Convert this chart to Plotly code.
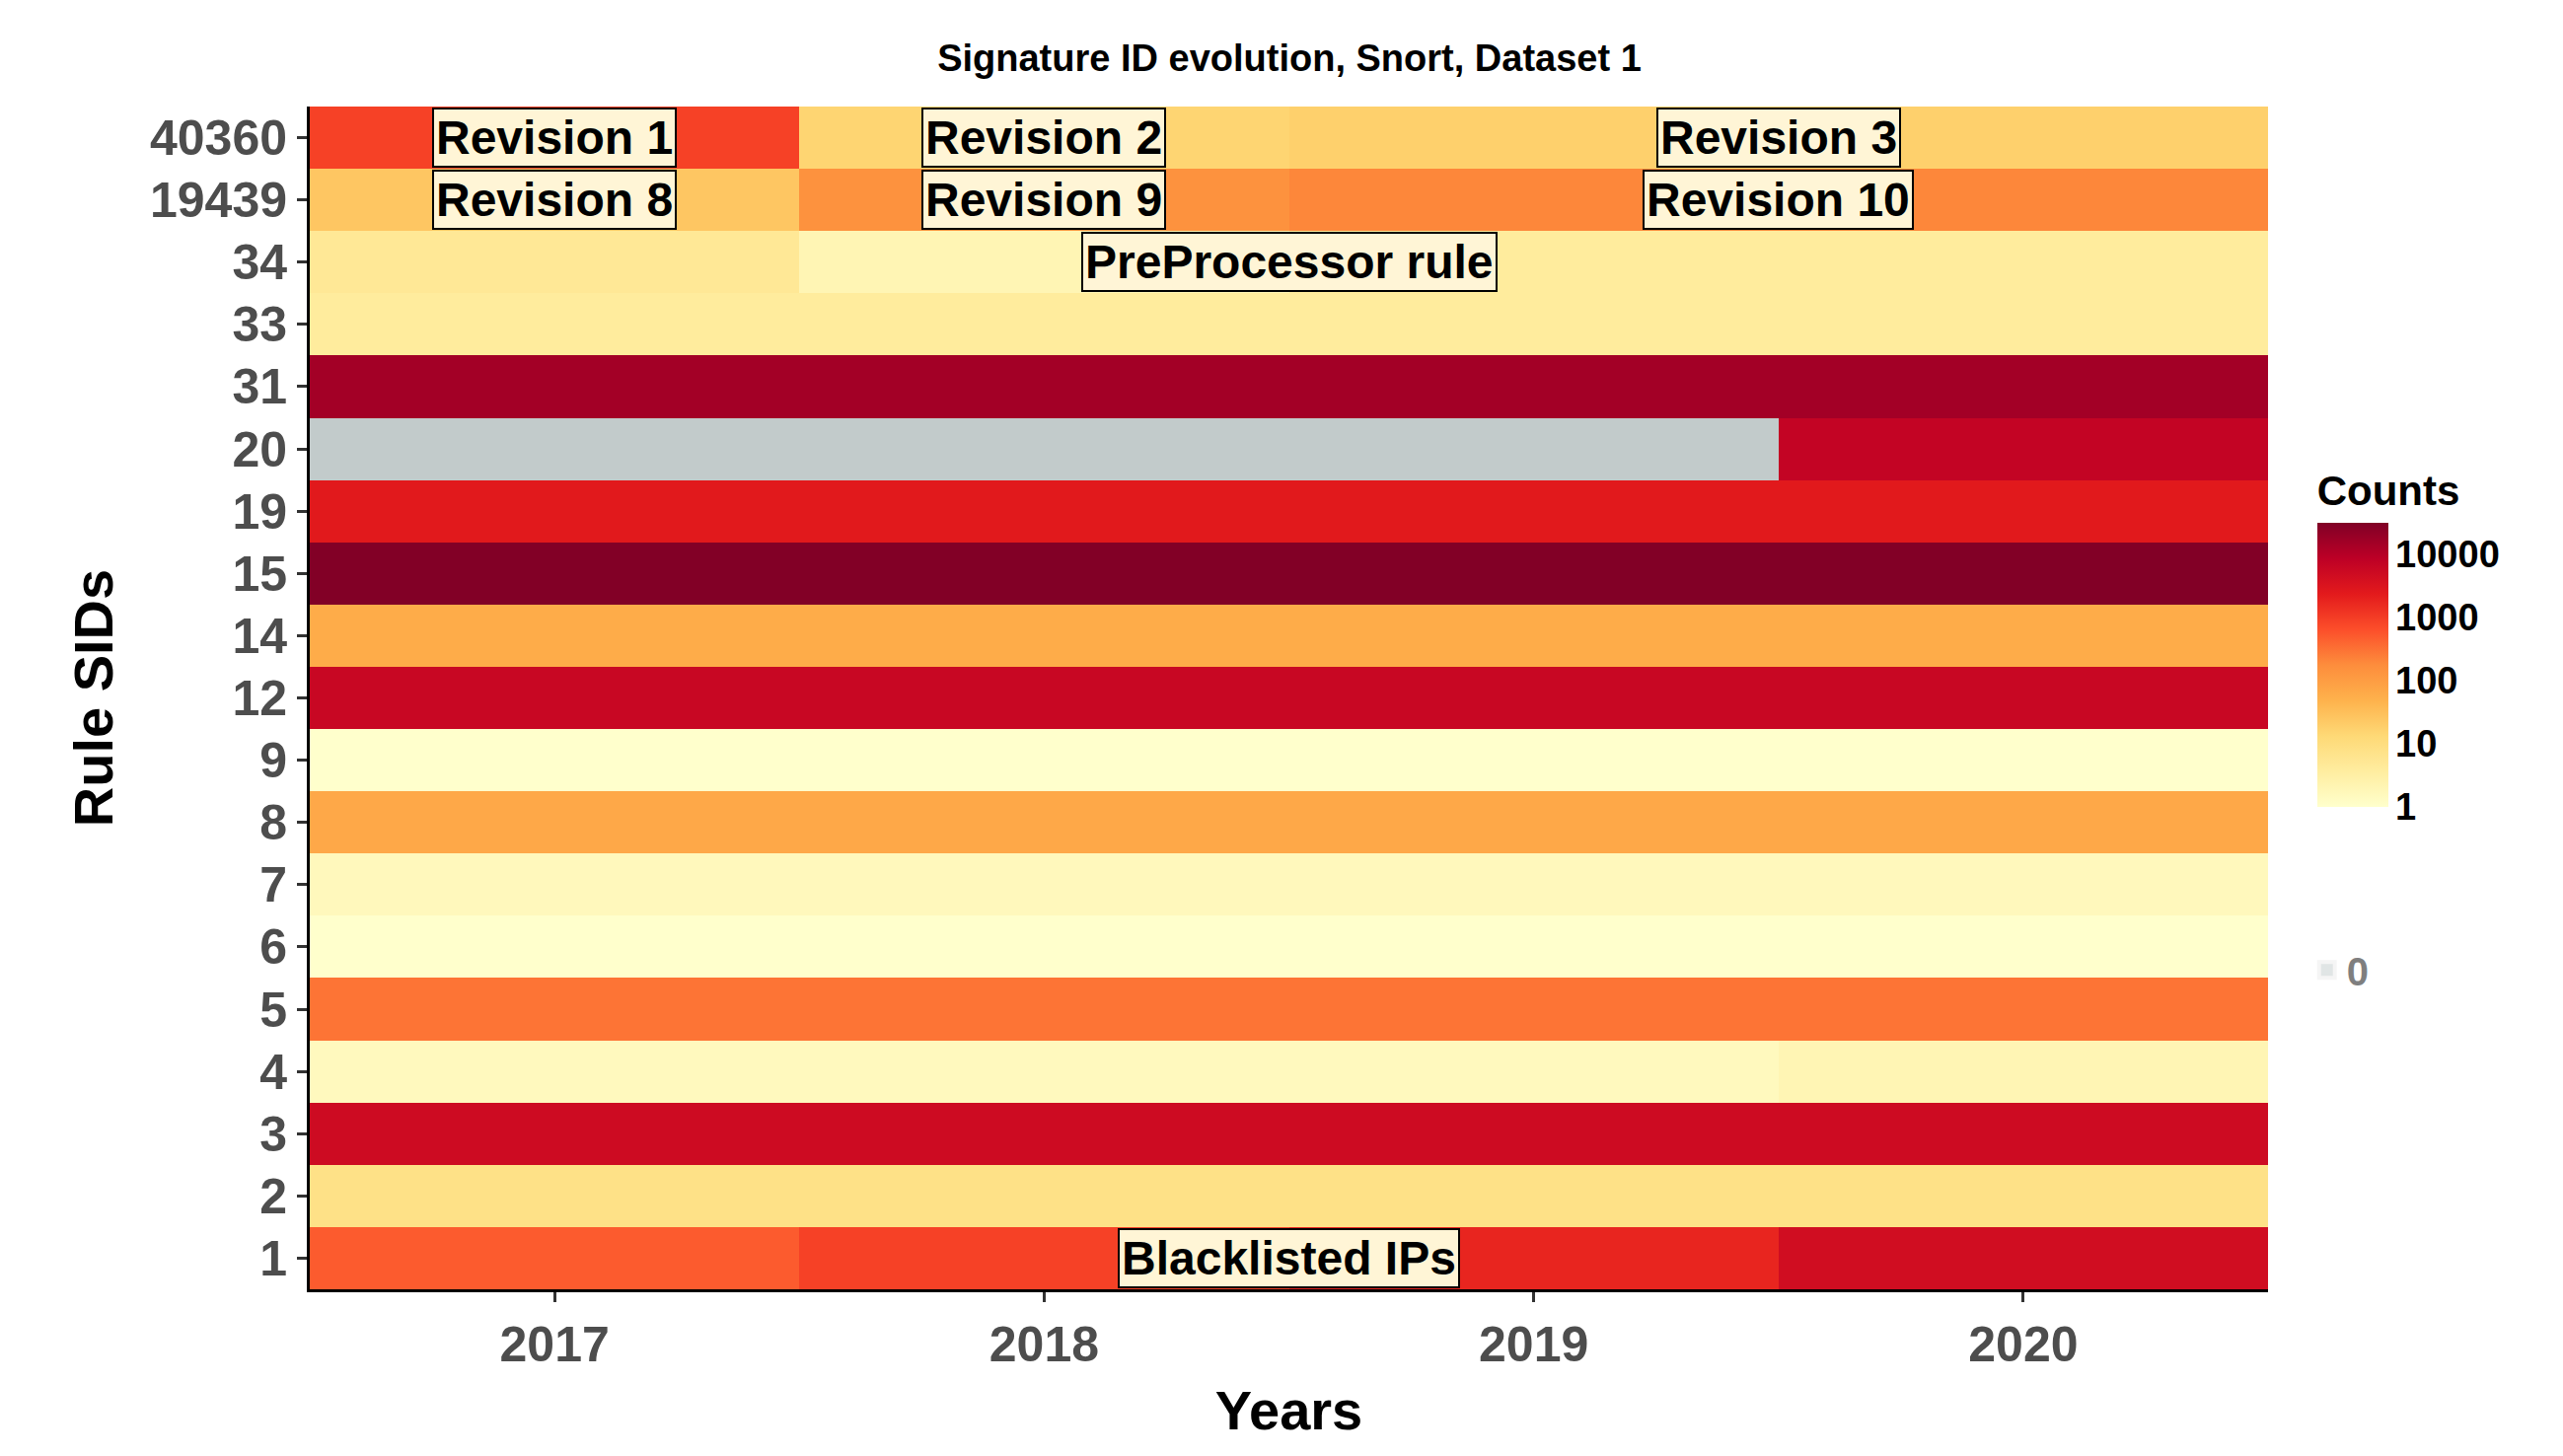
import numpy as np
import plotly.graph_objects as go

years = [2017, 2018, 2019, 2020]
sids = ["1", "2", "3", "4", "5", "6", "7", "8", "9", "12", "14", "15",
        "19", "20", "31", "33", "34", "19439", "40360"]

# counts per SID per year (0 = no hits)
c_1 = [500, 900, 1800, 4500]
c_2 = [8, 8, 8, 8]
c_3 = [5000, 5000, 5000, 5000]
c_4 = [1.5, 1.5, 1.5, 2]
c_5 = [300, 300, 300, 300]
c_6 = [1, 1, 1, 1]
c_7 = [1.6, 1.6, 1.6, 1.6]
c_8 = [70, 70, 70, 70]
c_9 = [1, 1, 1, 1]
c_12 = [6000, 6000, 6000, 6000]
c_14 = [60, 60, 60, 60]
c_15 = [30000, 30000, 30000, 30000]
c_19 = [2500, 2500, 2500, 2500]
c_20 = [0, 0, 0, 7000]
c_31 = [15000, 15000, 15000, 15000]
c_33 = [4, 4, 4, 4]
c_34 = [5, 2, 4, 4]
c_19439 = [25, 150, 200, 200]
c_40360 = [900, 15, 18, 18]

rows = [c_1, c_2, c_3, c_4, c_5, c_6, c_7, c_8, c_9, c_12, c_14, c_15,
        c_19, c_20, c_31, c_33, c_34, c_19439, c_40360]
counts = np.array(rows, dtype=float)
ypos = list(range(len(sids)))

with np.errstate(divide="ignore"):
    z = np.where(counts > 0, np.log10(counts), np.nan)
zero = np.where(counts == 0, 1.0, np.nan)

F = "Liberation Sans"
fig = go.Figure()
fig.add_trace(go.Heatmap(
    x=years, y=ypos, z=z, colorscale="YlOrRd", zmin=0, zmax=4.5,
    hoverongaps=False, showscale=True,
    colorbar=dict(
        title=dict(text="<b>Counts</b>", font=dict(family=F, size=42, color="black"), side="top"),
        tickvals=[0, 1, 2, 3, 4],
        ticktext=["<b>1</b>", "<b>10</b>", "<b>100</b>", "<b>1000</b>", "<b>10000</b>"],
        tickfont=dict(family=F, size=38, color="black"), ticks="outside", ticklen=0,
        x=1.02, xanchor="left", y=0.70, yanchor="top",
        lenmode="pixels", len=360, thicknessmode="pixels", thickness=72,
        outlinewidth=0),
))
fig.add_trace(go.Heatmap(
    x=years, y=ypos, z=zero, colorscale=[[0, "#C2CBCB"], [1, "#C2CBCB"]],
    showscale=False, hoverongaps=False,
))
fig.add_trace(go.Scatter(
    x=[2017], y=[0], mode="markers", name="<b>0</b>", visible="legendonly",
    marker=dict(symbol="square", size=52, color="#C2CBCB", line=dict(color="#EBEBEB", width=4)),
))

notes = [
    ("Revision 1", 2017, "40360"), ("Revision 2", 2018, "40360"), ("Revision 3", 2019.5, "40360"),
    ("Revision 8", 2017, "19439"), ("Revision 9", 2018, "19439"), ("Revision 10", 2019.5, "19439"),
    ("PreProcessor rule", 2018.5, "34"), ("Blacklisted IPs", 2018.5, "1"),
]
for text, x, y in notes:
    fig.add_annotation(x=x, y=sids.index(y), text="<b>%s</b>" % text, showarrow=False,
                       font=dict(family=F, size=48, color="black"),
                       bgcolor="#FFF5D6", bordercolor="black", borderwidth=2, borderpad=2)

fig.update_layout(
    width=2598, height=1476, plot_bgcolor="white", paper_bgcolor="white",
    margin=dict(l=306, r=307, t=100, b=177),
    title=dict(text="<b>Signature ID evolution, Snort, Dataset 1</b>", x=0.5, y=0.975,
               font=dict(family=F, size=38, color="black")),
    showlegend=True,
    legend=dict(x=1.02, xanchor="left", y=0.27, yanchor="middle",
                font=dict(family=F, size=40, color="black"), bgcolor="rgba(0,0,0,0)",
                itemclick=False, itemdoubleclick=False),
)
fig.update_xaxes(
    title=dict(text="<b>Years</b>", font=dict(family=F, size=56, color="black"), standoff=20),
    tickvals=years, ticktext=["<b>%d</b>" % y for y in years],
    tickfont=dict(family=F, size=50, color="#4D4D4D"), range=[2016.5, 2020.5],
    showline=True, linecolor="black", linewidth=3, ticks="outside", ticklen=10,
    tickcolor="#333333", tickwidth=3, showgrid=False, zeroline=False,
)
fig.update_yaxes(
    title=dict(text="<b>Rule SIDs</b>", font=dict(family=F, size=56, color="black"), standoff=20),
    tickvals=ypos, ticktext=["<b>%s</b>" % s for s in sids], range=[-0.5, len(sids) - 0.5],
    tickfont=dict(family=F, size=50, color="#4D4D4D"),
    showline=True, linecolor="black", linewidth=3, ticks="outside", ticklen=10,
    tickcolor="#333333", tickwidth=3, showgrid=False, zeroline=False,
)
fig.write_html("out.html")
